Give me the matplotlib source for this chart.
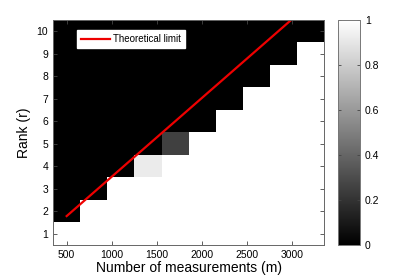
import numpy as np
import matplotlib
matplotlib.use("Agg")
import matplotlib.pyplot as plt

plt.rcParams["font.family"] = ["Liberation Sans", "DejaVu Sans"]

# ==============================
# data
# ==============================
measurements = [500, 800, 1100, 1400, 1700, 2000, 2300, 2600, 2900, 3200]
ranks = [1, 2, 3, 4, 5, 6, 7, 8, 9, 10]

# recovery rate, one row per rank
recovery = [
    [1, 1, 1, 1, 1, 1, 1, 1, 1, 1],
    [0, 1, 1, 1, 1, 1, 1, 1, 1, 1],
    [0, 0, 1, 1, 1, 1, 1, 1, 1, 1],
    [0, 0, 0, 0.92, 1, 1, 1, 1, 1, 1],
    [0, 0, 0, 0, 0.25, 1, 1, 1, 1, 1],
    [0, 0, 0, 0, 0, 0, 1, 1, 1, 1],
    [0, 0, 0, 0, 0, 0, 0, 1, 1, 1],
    [0, 0, 0, 0, 0, 0, 0, 0, 1, 1],
    [0, 0, 0, 0, 0, 0, 0, 0, 0, 1],
    [0, 0, 0, 0, 0, 0, 0, 0, 0, 0],
]

limit_m = [500, 3000]
limit_r = [1.78, 10.55]

# ==============================
# plot
# ==============================
fig = plt.figure(figsize=(4.15, 2.77), dpi=100)
ax = fig.add_axes([0.128, 0.116, 0.653, 0.812])
cax = fig.add_axes([0.8145, 0.116, 0.053, 0.812])

step = measurements[1] - measurements[0]
x_edges = np.append(np.array(measurements) - step / 2, measurements[-1] + step / 2)
y_edges = np.append(np.array(ranks) - 0.5, ranks[-1] + 0.5)

mesh = ax.pcolormesh(x_edges, y_edges, np.array(recovery), cmap="gray", vmin=0, vmax=1)
ax.plot(limit_m, limit_r, color="#ee0000", lw=1.6, label="Theoretical limit")

ax.set_xlim(x_edges[0], x_edges[-1])
ax.set_ylim(y_edges[0], y_edges[-1])
ax.set_xticks([500, 1000, 1500, 2000, 2500, 3000])
ax.set_yticks(ranks)
ax.tick_params(direction="in", top=True, right=True, labelsize=7.5, length=3,
               width=0.6, color="#444444")
for s in ax.spines.values():
    s.set_color("#666666")
    s.set_linewidth(0.7)

ax.set_xlabel("Number of measurements (m)", fontsize=10, labelpad=1)
ax.set_ylabel("Rank (r)", fontsize=10, labelpad=4)

leg = ax.legend(loc="upper left", bbox_to_anchor=(0.089, 0.955), fontsize=7,
                frameon=True, fancybox=False, handlelength=3.0, handletextpad=0.3,
                borderpad=0.4, borderaxespad=0)
leg.get_frame().set_edgecolor("white")
leg.get_frame().set_alpha(1)

cb = fig.colorbar(mesh, cax=cax)
cb.set_ticks([0, 0.2, 0.4, 0.6, 0.8, 1])
cb.set_ticklabels(["0", "0.2", "0.4", "0.6", "0.8", "1"])
cax.tick_params(direction="in", left=True, right=True, labelsize=7.5, length=2,
                width=0.6, color="#444444")
cb.outline.set_edgecolor("#777777")
cb.outline.set_linewidth(0.7)

plt.savefig("out.png", dpi=100)
